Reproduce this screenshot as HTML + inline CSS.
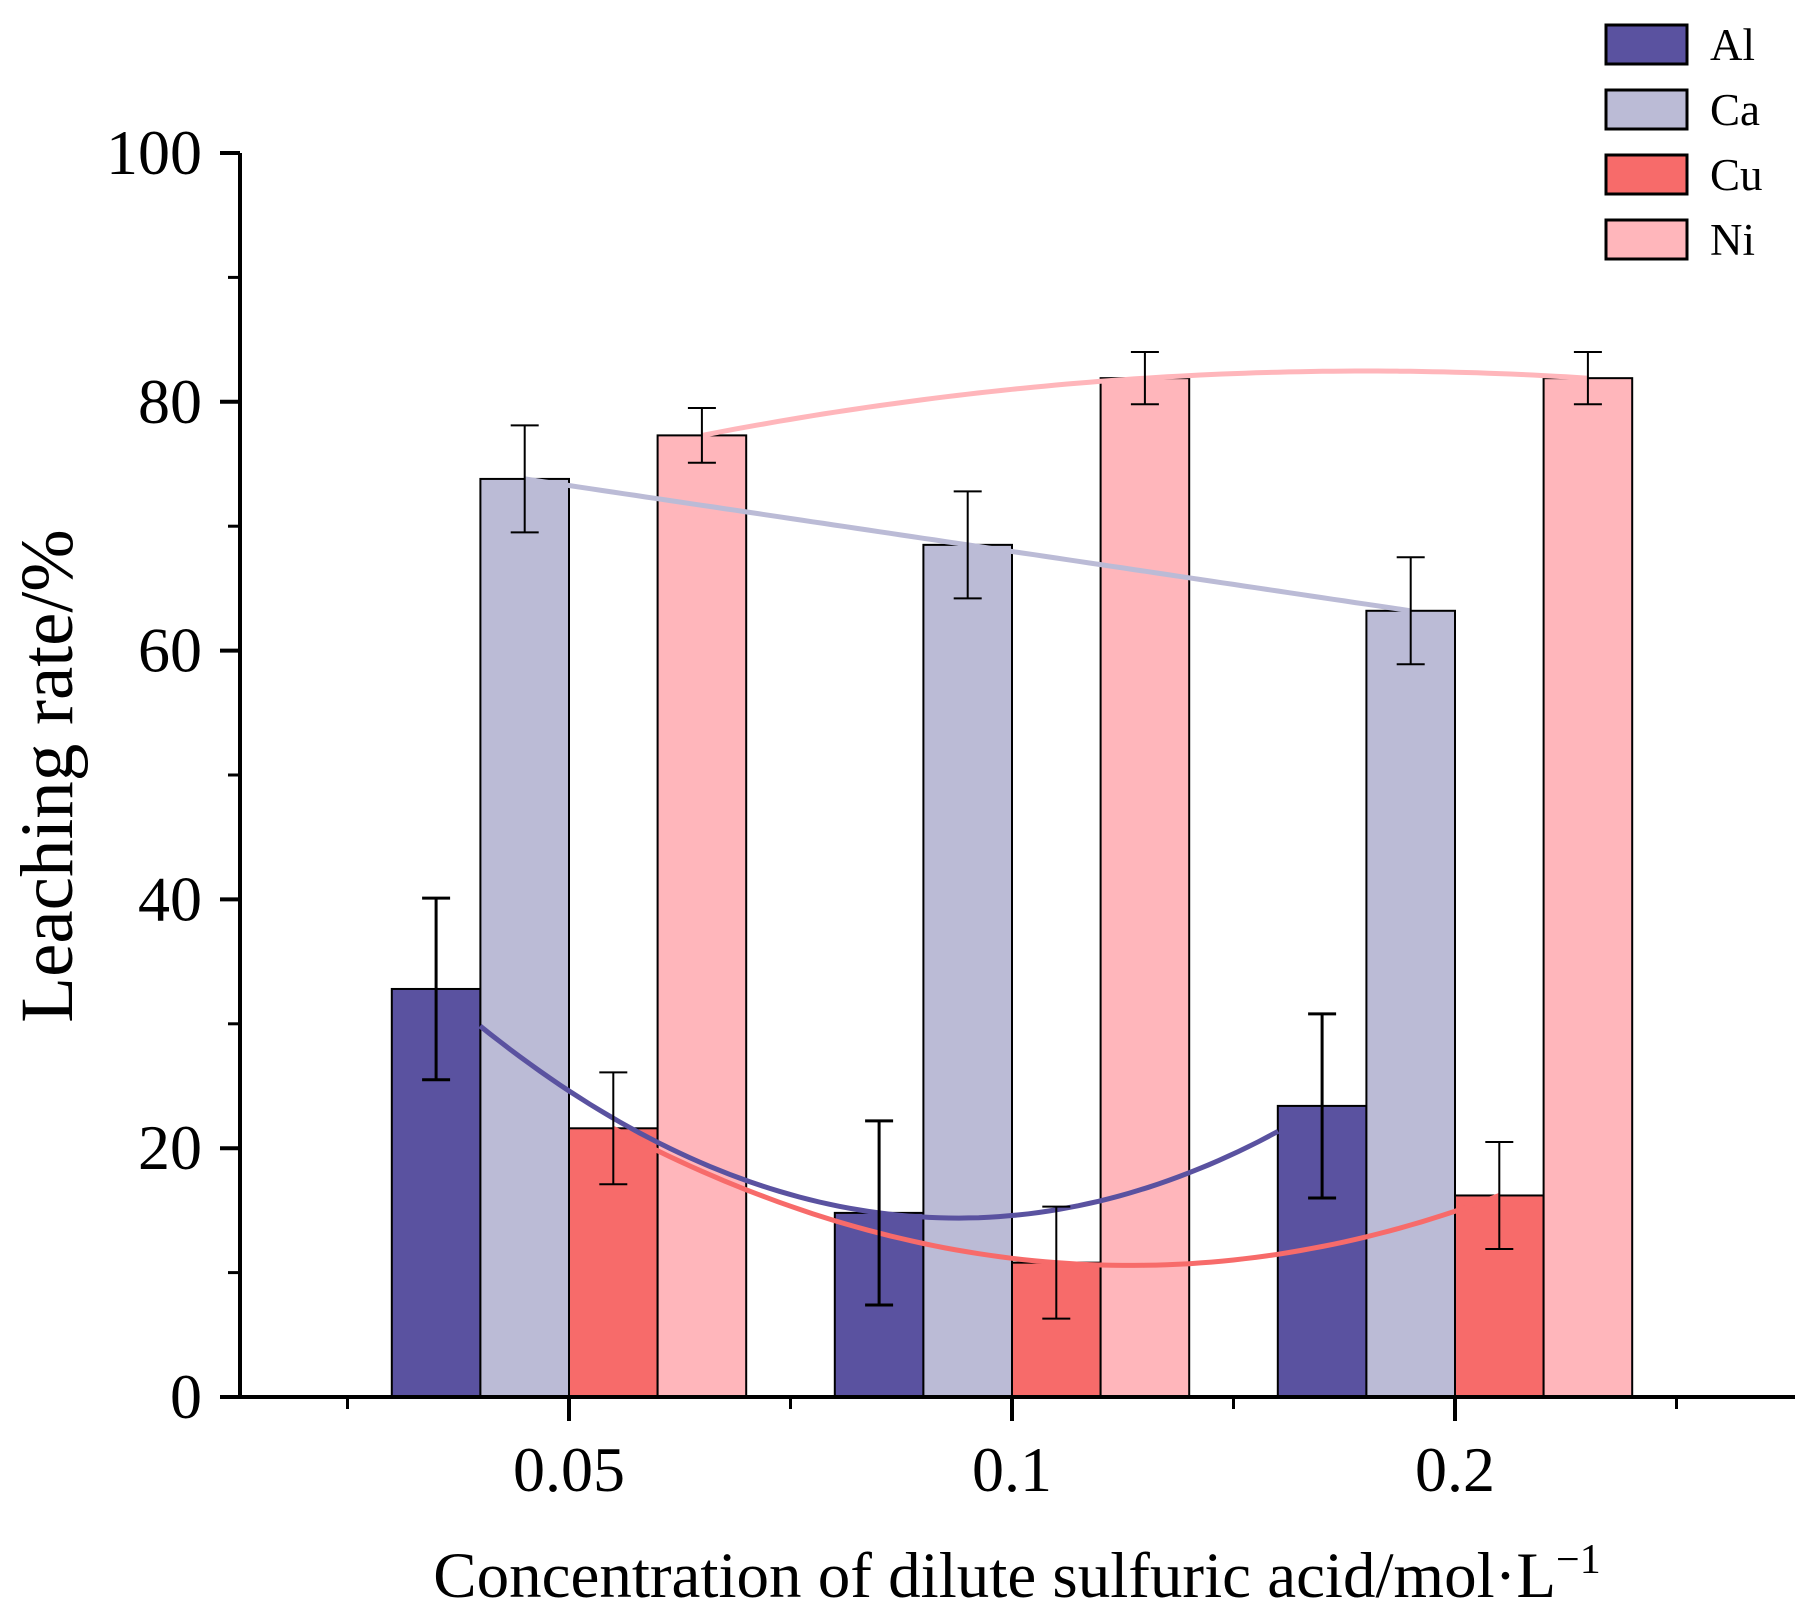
<!DOCTYPE html>
<html><head><meta charset="utf-8"><style>
html,body{margin:0;padding:0;background:#fff}
svg{display:block}
text{font-family:"Liberation Serif",serif;fill:#000}
</style></head><body>
<svg id="chart" width="1811" height="1621" viewBox="0 0 1811 1621" xmlns="http://www.w3.org/2000/svg">
<g id="bars"></g>
<g id="curves"></g>
<g id="errs"></g>
<g id="axes"></g>
<g id="legend"></g>
<text x="1017" y="1597" text-anchor="middle" font-size="65">Concentration of dilute sulfuric acid/mol·L<tspan font-size="42" dy="-24">−1</tspan></text>
<text transform="translate(72,776) rotate(-90)" text-anchor="middle" font-size="75">Leaching rate/%</text>
</svg>
<script>
const categories = ["0.05","0.1","0.2"];
const seriesNames = ["Al","Ca","Cu","Ni"];
const colors = ["#5a52a0","#bbbbd6","#f76b6a","#ffb6bb"];
const alVals = [32.8,14.8,23.4];
const caVals = [73.8,68.5,63.2];
const cuVals = [21.6,10.8,16.2];
const niVals = [77.3,81.9,81.9];
const alErr = [7.3,7.4,7.4];
const caErr = [4.3,4.3,4.3];
const cuErr = [4.5,4.5,4.3];
const niErr = [2.2,2.1,2.1];
const yTicks = [0,20,40,60,80,100];

const NS="http://www.w3.org/2000/svg";
const vals=[alVals,caVals,cuVals,niVals], errs=[alErr,caErr,cuErr,niErr];
const X0=240, XEND=1795, Y0=1397, Y100=153, BW=88.6, C0=569, GAP=443;
const ys=v=>Y0-(v/100)*(Y0-Y100);
const xc=i=>C0+i*GAP;
const barX=(i,s)=>xc(i)-2*BW+s*BW;
function mk(tag,attrs,parent){const e=document.createElementNS(NS,tag);for(const k in attrs)e.setAttribute(k,attrs[k]);parent.appendChild(e);return e;}
const gB=document.getElementById('bars'),gC=document.getElementById('curves'),gE=document.getElementById('errs'),gA=document.getElementById('axes'),gL=document.getElementById('legend');
seriesNames.forEach((n,s)=>{
  categories.forEach((c,i)=>{
    const r=mk('rect',{x:barX(i,s),y:ys(vals[s][i]),width:BW,height:Y0-ys(vals[s][i]),fill:colors[s],stroke:'#000','stroke-width':2},gB);
    
    
    const cx=barX(i,s)+BW/2, t=ys(vals[s][i]+errs[s][i]), b=ys(vals[s][i]-errs[s][i]);
    const sw = s===0?3:2;
    const e=mk('path',{d:`M${cx},${t}V${b}M${cx-14},${t}H${cx+14}M${cx-14},${b}H${cx+14}`,stroke:'#000','stroke-width':sw,fill:'none'},gE);
    
    
  });
  const px=categories.map((c,i)=>barX(i,s)+BW/2), py=vals[s];
  const L=x=>{let r=0;for(let j=0;j<3;j++){let p=py[j];for(let k=0;k<3;k++)if(k!==j)p*=(x-px[k])/(px[j]-px[k]);r+=p;}return r;};
  let xs=px[0], xe=px[2];
  if(s===0){xs=px[0]+44; xe=px[2]-44;}
  let d='';
  for(let k=0;k<=80;k++){const x=xs+(xe-xs)*k/80;d+=(k?'L':'M')+x.toFixed(1)+','+ys(L(x)).toFixed(1);}
  const cv=mk('path',{d:d,stroke:colors[s],'stroke-width':5,fill:'none'},gC);
  
  
});
const ya=mk('path',{d:`M${X0},${Y100}V${Y0}`,stroke:'#000','stroke-width':4},gA);


const xa=mk('path',{d:`M${X0-2},${Y0}H${XEND}`,stroke:'#000','stroke-width':4},gA);


yTicks.forEach(v=>{
  mk('path',{d:`M${X0-20},${ys(v)}H${X0}`,stroke:'#000','stroke-width':4},gA);
  if(v<100) mk('path',{d:`M${X0-12},${ys(v+10)}H${X0}`,stroke:'#000','stroke-width':3},gA);
  const t=mk('text',{x:X0-38,y:ys(v)+21,'text-anchor':'end','font-size':64},gA);
  t.textContent=v;
  
  
});
categories.forEach((c,i)=>{
  mk('path',{d:`M${xc(i)},${Y0}V${Y0+24}`,stroke:'#000','stroke-width':4},gA);
  const t=mk('text',{x:xc(i),y:1491,'text-anchor':'middle','font-size':64},gA);
  t.textContent=c;
  
  
});
for(let i=0;i<4;i++){mk('path',{d:`M${xc(i)-GAP/2},${Y0}V${Y0+12}`,stroke:'#000','stroke-width':3},gA);}
seriesNames.forEach((n,s)=>{
  const y=25+s*65;
  const r=mk('rect',{x:1606,y:y,width:81,height:39,fill:colors[s],stroke:'#000','stroke-width':3},gL);
  
  
  const t=mk('text',{x:1710,y:y+35,'font-size':45},gL);
  t.textContent=n;
  
  
});
</script>
</body></html>
